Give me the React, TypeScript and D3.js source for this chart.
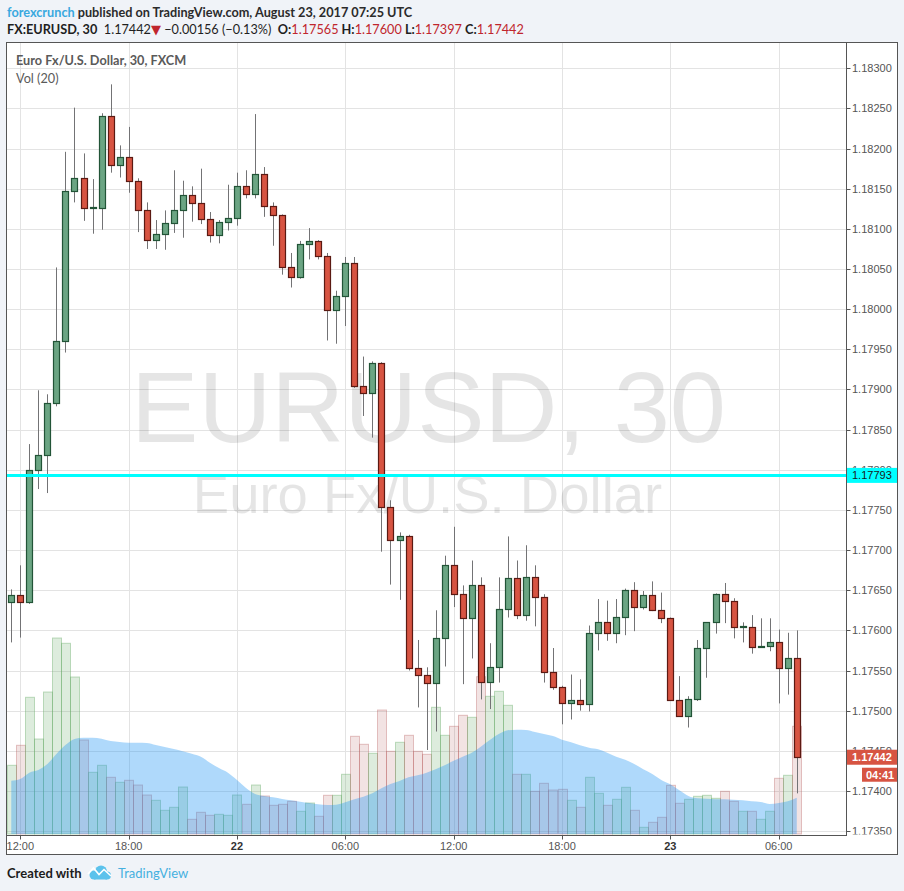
import React, { useEffect, useRef } from "react";
import * as d3 from "d3";

// EURUSD 30 min bars, Aug 21 11:30 UTC .. Aug 23 07:00 UTC
const firstBar = "2017-08-21T11:30:00Z";

const opens = [
  1.17635, 1.17644, 1.17635, 1.178, 1.17818, 1.17883, 1.1796, 1.18147, 1.18164, 1.18126,
  1.18126, 1.1824, 1.1818, 1.18189, 1.1816, 1.18123, 1.18086, 1.18094, 1.18107, 1.18123,
  1.18142, 1.18132, 1.18112, 1.18092, 1.18109, 1.18113, 1.18153, 1.18143, 1.18168, 1.18128,
  1.18117, 1.18052, 1.1804, 1.18081, 1.18085, 1.18066, 1.17999, 1.18017, 1.18057, 1.17904,
  1.17896, 1.17933, 1.17754, 1.17712, 1.17718, 1.17553, 1.17544, 1.17534, 1.1759, 1.17682,
  1.17645, 1.17615, 1.17657, 1.17536, 1.17554, 1.17626, 1.17665, 1.17619, 1.17666, 1.17641,
  1.17548, 1.1753, 1.1751, 1.17513, 1.17508, 1.17597, 1.1761, 1.17597, 1.17617, 1.1765,
  1.17629, 1.17644, 1.17625, 1.17615, 1.17513, 1.17493, 1.17514, 1.17578, 1.1761, 1.17645,
  1.17637, 1.17604, 1.17604, 1.17579, 1.17581, 1.17586, 1.17553, 1.17565,
];
const highs = [
  1.17651, 1.17681, 1.17832, 1.17899, 1.17894, 1.18052, 1.18196, 1.18251, 1.18194, 1.18162,
  1.18244, 1.1828, 1.18204, 1.18227, 1.18163, 1.18133, 1.18111, 1.18123, 1.18173, 1.1816,
  1.18153, 1.18175, 1.18121, 1.18111, 1.18155, 1.1817, 1.18173, 1.18243, 1.18177, 1.18133,
  1.18118, 1.1807, 1.18085, 1.18101, 1.18086, 1.1807, 1.18023, 1.18065, 1.18065, 1.17941,
  1.17935, 1.17934, 1.17762, 1.17722, 1.17719, 1.17588, 1.17554, 1.17625, 1.17693, 1.17729,
  1.17656, 1.17687, 1.17666, 1.17584, 1.17666, 1.17717, 1.17687, 1.17706, 1.17681, 1.17645,
  1.17578, 1.17531, 1.17545, 1.17539, 1.17606, 1.17639, 1.17637, 1.17639, 1.17652, 1.1766,
  1.17649, 1.17661, 1.17647, 1.17616, 1.17543, 1.17518, 1.17588, 1.1761, 1.17646, 1.17659,
  1.1764, 1.1761, 1.17619, 1.17615, 1.17615, 1.17601, 1.17597, 1.176,
];
const lows = [
  1.17585, 1.17591, 1.17633, 1.17776, 1.17771, 1.17879, 1.17946, 1.18133, 1.1811, 1.18094,
  1.18099, 1.1817, 1.18164, 1.18145, 1.18096, 1.18075, 1.18075, 1.18074, 1.18095, 1.18089,
  1.18109, 1.18106, 1.18083, 1.18082, 1.18098, 1.18104, 1.18138, 1.18138, 1.18115, 1.18079,
  1.18043, 1.18027, 1.18038, 1.18062, 1.18062, 1.17961, 1.17957, 1.17979, 1.17902, 1.17867,
  1.1784, 1.17698, 1.17657, 1.17638, 1.1755, 1.17504, 1.17451, 1.17474, 1.17555, 1.17629,
  1.17533, 1.17565, 1.17514, 1.17502, 1.17535, 1.17616, 1.17614, 1.17612, 1.17605, 1.17535,
  1.17526, 1.17483, 1.17489, 1.175, 1.17499, 1.17575, 1.17587, 1.17584, 1.17594, 1.17599,
  1.17626, 1.17624, 1.17609, 1.17512, 1.17493, 1.17479, 1.17512, 1.17541, 1.17596, 1.17609,
  1.1759, 1.17585, 1.17571, 1.17579, 1.17574, 1.17509, 1.1752, 1.17397,
];
const closes = [
  1.17644, 1.17635, 1.178, 1.17818, 1.17883, 1.1796, 1.18147, 1.18164, 1.18126, 1.18127,
  1.1824, 1.1818, 1.18189, 1.1816, 1.18123, 1.18086, 1.18094, 1.18107, 1.18123, 1.18142,
  1.18132, 1.18112, 1.18092, 1.18109, 1.18113, 1.18153, 1.18143, 1.18168, 1.18128, 1.18117,
  1.18052, 1.1804, 1.18081, 1.18085, 1.18066, 1.17999, 1.18017, 1.18057, 1.17904, 1.17896,
  1.17933, 1.17754, 1.17712, 1.17718, 1.17553, 1.17544, 1.17534, 1.1759, 1.17682, 1.17645,
  1.17615, 1.17657, 1.17536, 1.17554, 1.17626, 1.17665, 1.17619, 1.17666, 1.17641, 1.17548,
  1.1753, 1.1751, 1.17513, 1.17508, 1.17597, 1.1761, 1.17597, 1.17617, 1.1765, 1.17629,
  1.17644, 1.17625, 1.17615, 1.17513, 1.17493, 1.17514, 1.17578, 1.1761, 1.17645, 1.17637,
  1.17604, 1.17605, 1.17579, 1.17581, 1.17586, 1.17553, 1.17565, 1.17442,
];
const volumes = [
  687, 887, 1367, 950, 1420, 1960, 1907, 1570, 940, 617,
  687, 567, 517, 537, 490, 390, 337, 237, 267, 470,
  147, 217, 187, 197, 187, 390, 297, 490, 380, 287,
  297, 327, 227, 310, 177, 387, 387, 597, 977, 897,
  807, 1240, 827, 917, 987, 827, 797, 1267, 987, 1077,
  1187, 1167, 1573, 1377, 1427, 1287, 597, 597, 427, 507,
  440, 447, 337, 267, 567, 407, 287, 347, 467, 237,
  67, 117, 167, 487, 307, 347, 377, 387, 357, 427,
  327, 227, 227, 147, 227, 557, 587, 1077,
];
// Vol (20) moving average as drawn
const volumeMA = [
  533, 550, 613, 640, 700, 800, 890, 950, 963, 963,
  953, 930, 920, 913, 913, 910, 890, 870, 850, 827,
  803, 773, 713, 660, 613, 540, 460, 400, 380, 367,
  350, 337, 323, 310, 297, 290, 293, 317, 347, 373,
  407, 457, 500, 530, 567, 587, 613, 647, 687, 733,
  773, 813, 873, 940, 1000, 1037, 1043, 1040, 1020, 1000,
  980, 943, 917, 887, 863, 847, 813, 773, 743, 700,
  647, 600, 540, 497, 437, 380, 357, 353, 347, 347,
  343, 337, 327, 320, 300, 310, 327, 363,
];

const priceTicks = [
  1.183, 1.1825, 1.182, 1.1815, 1.181, 1.1805, 1.18, 1.1795, 1.179, 1.1785,
  1.178, 1.1775, 1.177, 1.1765, 1.176, 1.1755, 1.175, 1.1745, 1.174, 1.1735,
];
const timeTicks = [
  { time: "2017-08-21T12:00:00Z", label: "12:00", bold: false },
  { time: "2017-08-21T18:00:00Z", label: "18:00", bold: false },
  { time: "2017-08-22T00:00:00Z", label: "22", bold: true },
  { time: "2017-08-22T06:00:00Z", label: "06:00", bold: false },
  { time: "2017-08-22T12:00:00Z", label: "12:00", bold: false },
  { time: "2017-08-22T18:00:00Z", label: "18:00", bold: false },
  { time: "2017-08-23T00:00:00Z", label: "23", bold: true },
  { time: "2017-08-23T06:00:00Z", label: "06:00", bold: false },
];
const alertLevel = 1.17793;
const lastPrice = 1.17442;
const countdown = "04:41";

const UP = "#6ba583";
const UP_BORDER = "#225437";
const DOWN = "#d75442";
const DOWN_BORDER = "#5b1a13";
const WICK = "#737375";
const AXIS_TEXT = "#555555";

const App: React.FC = () => {
  const svgRef = useRef<SVGSVGElement | null>(null);

  useEffect(() => {
    const width = 904;
    const height = 891;
    const frame = { left: 6.5, top: 42.5, plotRight: 846.5, plotBottom: 835.5, right: 897.5, bottom: 854.5 };

    const t0 = new Date(firstBar).getTime();
    const bars = opens.map((o, i) => ({
      time: new Date(t0 + i * 30 * 60 * 1000),
      open: o,
      high: highs[i],
      low: lows[i],
      close: closes[i],
      volume: volumes[i],
      ma: volumeMA[i],
    }));

    const xScale = d3
      .scaleTime()
      .domain([new Date("2017-08-21T12:00:00Z"), new Date("2017-08-23T06:00:00Z")])
      .range([20.3, 778.7]);
    const yScale = d3.scaleLinear().domain([1.1735, 1.183]).range([831.1, 68.3]);
    const volScale = d3.scaleLinear().domain([0, 2000]).range([834, 634]);

    const svg = d3.select(svgRef.current).attr("width", width).attr("height", height);
    svg.selectAll("*").remove();

    const defs = svg.append("defs");
    defs
      .append("clipPath")
      .attr("id", "plot-clip")
      .append("rect")
      .attr("x", frame.left)
      .attr("y", frame.top)
      .attr("width", frame.plotRight - frame.left)
      .attr("height", frame.plotBottom - frame.top);
    defs
      .append("clipPath")
      .attr("id", "axis-clip")
      .append("rect")
      .attr("x", frame.plotRight)
      .attr("y", frame.top)
      .attr("width", frame.right - frame.plotRight)
      .attr("height", frame.plotBottom - frame.top - 1);

    // page + chart background
    svg.append("rect").attr("width", width).attr("height", height).attr("fill", "#f0f3f8");
    svg
      .append("rect")
      .attr("x", frame.left)
      .attr("y", frame.top)
      .attr("width", frame.right - frame.left)
      .attr("height", frame.bottom - frame.top)
      .attr("fill", "#ffffff");

    const plot = svg.append("g").attr("clip-path", "url(#plot-clip)");

    // grid
    const grid = plot.append("g").attr("stroke", "#e3e3e3").attr("shape-rendering", "crispEdges");
    grid
      .selectAll("line.h")
      .data(priceTicks)
      .enter()
      .append("line")
      .attr("x1", frame.left)
      .attr("x2", frame.plotRight)
      .attr("y1", (d) => Math.round(yScale(d)) + 0.5)
      .attr("y2", (d) => Math.round(yScale(d)) + 0.5);
    grid
      .selectAll("line.v")
      .data(timeTicks)
      .enter()
      .append("line")
      .attr("y1", frame.top)
      .attr("y2", frame.plotBottom)
      .attr("x1", (d) => Math.round(xScale(new Date(d.time))) + 0.5)
      .attr("x2", (d) => Math.round(xScale(new Date(d.time))) + 0.5);

    // watermark
    const midX = (frame.left + frame.plotRight) / 2;
    plot
      .append("text")
      .attr("x", midX + 2)
      .attr("y", 442)
      .attr("text-anchor", "middle")
      .style("font-family", "'Liberation Sans', Arial, sans-serif")
      .style("font-size", "101px")
      .style("fill", "rgba(0,0,0,0.1)")
      .text("EURUSD, 30");
    plot
      .append("text")
      .attr("x", midX + 1)
      .attr("y", 513)
      .attr("text-anchor", "middle")
      .style("font-family", "'Liberation Sans', Arial, sans-serif")
      .style("font-size", "54.5px")
      .style("fill", "rgba(0,0,0,0.1)")
      .text("Euro Fx/U.S. Dollar");

    // volume bars
    plot
      .append("g")
      .selectAll("rect")
      .data(bars)
      .enter()
      .append("rect")
      .attr("x", (d) => Math.round(xScale(d.time) - 4.5) + 0.5)
      .attr("y", (d) => volScale(d.volume))
      .attr("width", 9)
      .attr("height", (d) => volScale(0) - volScale(d.volume))
      .attr("fill", (d) => (d.close >= d.open ? "rgba(100,170,100,0.22)" : "rgba(180,90,90,0.17)"))
      .attr("stroke", (d) => (d.close >= d.open ? "rgba(100,170,100,0.4)" : "rgba(180,90,90,0.35)"))
      .attr("stroke-width", 1);

    // volume MA area
    const maArea = d3
      .area<(typeof bars)[number]>()
      .x((d) => xScale(d.time))
      .y0(volScale(0))
      .y1((d) => volScale(d.ma))
      .curve(d3.curveMonotoneX);
    plot
      .append("path")
      .datum(bars)
      .attr("d", maArea)
      .attr("fill", "rgba(33,150,243,0.36)");

    // candles
    const candles = plot.append("g").selectAll("g").data(bars).enter().append("g");
    candles
      .append("line")
      .attr("x1", (d) => Math.round(xScale(d.time)) + 0.5)
      .attr("x2", (d) => Math.round(xScale(d.time)) + 0.5)
      .attr("y1", (d) => yScale(d.high))
      .attr("y2", (d) => yScale(d.low))
      .attr("stroke", WICK)
      .attr("stroke-width", 1);
    candles
      .append("rect")
      .attr("x", (d) => Math.round(xScale(d.time)) - 2.5)
      .attr("y", (d) => Math.round(yScale(Math.max(d.open, d.close))) + 0.5)
      .attr("width", 6)
      .attr("height", (d) =>
        Math.max(1, Math.round(yScale(Math.min(d.open, d.close))) - Math.round(yScale(Math.max(d.open, d.close))))
      )
      .attr("fill", (d) => (d.close >= d.open ? UP : DOWN))
      .attr("stroke", (d) => (d.close >= d.open ? UP_BORDER : DOWN_BORDER))
      .attr("stroke-width", 1.2);

    // horizontal alert line
    plot
      .append("line")
      .attr("x1", frame.left)
      .attr("x2", frame.plotRight)
      .attr("y1", yScale(alertLevel))
      .attr("y2", yScale(alertLevel))
      .attr("stroke", "#00ffff")
      .attr("stroke-width", 3);

    // legend
    const legend = svg
      .append("g")
      .style("font-family", "Lato, 'Noto Sans', sans-serif")
      .style("font-size", "12.7px")
      .style("font-weight", "700")
      .style("fill", "#5a5a5a");
    legend.append("text").attr("x", 16).attr("y", 65).text("Euro Fx/U.S. Dollar, 30, FXCM");
    legend.append("text").attr("x", 16).attr("y", 83).style("font-weight", "400").text("Vol (20)");

    // price axis
    const axisG = svg.append("g").attr("clip-path", "url(#axis-clip)");
    axisG
      .selectAll("line")
      .data(priceTicks)
      .enter()
      .append("line")
      .attr("x1", frame.plotRight)
      .attr("x2", frame.plotRight + 4)
      .attr("y1", (d) => Math.round(yScale(d)) + 0.5)
      .attr("y2", (d) => Math.round(yScale(d)) + 0.5)
      .attr("stroke", "#555");
    axisG
      .selectAll("text")
      .data(priceTicks)
      .enter()
      .append("text")
      .attr("x", 852)
      .attr("y", (d) => yScale(d) + 4)
      .style("font-family", "'Liberation Sans', Arial, sans-serif")
      .style("font-size", "11px")
      .style("fill", AXIS_TEXT)
      .text((d) => d.toFixed(5));

    // price boxes
    const boxes = [
      { price: alertLevel, text: alertLevel.toFixed(5), fill: "#00ffff", color: "#1a1a1a", weight: "400" },
      { price: lastPrice, text: lastPrice.toFixed(5), fill: DOWN, color: "#ffffff", weight: "700" },
    ];
    boxes.forEach((b) => {
      const cy = yScale(b.price);
      svg
        .append("rect")
        .attr("x", frame.plotRight)
        .attr("y", cy - 7.5)
        .attr("width", frame.right - frame.plotRight)
        .attr("height", 15)
        .attr("fill", b.fill);
      svg
        .append("text")
        .attr("x", 852)
        .attr("y", cy + 4)
        .style("font-family", "'Liberation Sans', Arial, sans-serif")
        .style("font-size", "11px")
        .style("font-weight", b.weight)
        .style("fill", b.color)
        .text(b.text);
    });
    const lastY = yScale(lastPrice);
    svg
      .append("rect")
      .attr("x", 862)
      .attr("y", lastY + 10.5)
      .attr("width", frame.right - 862)
      .attr("height", 14)
      .attr("fill", DOWN);
    svg
      .append("text")
      .attr("x", 866)
      .attr("y", lastY + 21.5)
      .style("font-family", "'Liberation Sans', Arial, sans-serif")
      .style("font-size", "11px")
      .style("font-weight", "700")
      .style("fill", "#ffffff")
      .text(countdown);

    // time axis
    const timeG = svg.append("g");
    timeG
      .selectAll("line")
      .data(timeTicks)
      .enter()
      .append("line")
      .attr("x1", (d) => Math.round(xScale(new Date(d.time))) + 0.5)
      .attr("x2", (d) => Math.round(xScale(new Date(d.time))) + 0.5)
      .attr("y1", frame.plotBottom)
      .attr("y2", frame.plotBottom + 4)
      .attr("stroke", "#555");
    timeG
      .selectAll("text")
      .data(timeTicks)
      .enter()
      .append("text")
      .attr("x", (d) => xScale(new Date(d.time)))
      .attr("y", 850)
      .attr("text-anchor", "middle")
      .style("font-family", "'Liberation Sans', Arial, sans-serif")
      .style("font-size", "11px")
      .style("font-weight", (d) => (d.bold ? "700" : "400"))
      .style("fill", (d) => (d.bold ? "#333" : AXIS_TEXT))
      .text((d) => d.label);

    // frame
    const border = svg.append("g").attr("stroke", "#555").attr("fill", "none").attr("shape-rendering", "crispEdges");
    border
      .append("rect")
      .attr("x", frame.left)
      .attr("y", frame.top)
      .attr("width", frame.right - frame.left)
      .attr("height", frame.bottom - frame.top);
    border
      .append("line")
      .attr("x1", frame.plotRight)
      .attr("x2", frame.plotRight)
      .attr("y1", frame.top)
      .attr("y2", frame.plotBottom);
    border
      .append("line")
      .attr("x1", frame.left)
      .attr("x2", frame.plotRight)
      .attr("y1", frame.plotBottom)
      .attr("y2", frame.plotBottom);

    // header
    const head = svg.append("g").style("font-family", "Lato, 'Noto Sans', sans-serif").style("font-size", "12.7px");
    const line1 = head.append("text").attr("x", 7).attr("y", 17).style("font-weight", "700");
    line1.append("tspan").style("fill", "#3aa9df").text("forexcrunch");
    line1.append("tspan").style("fill", "#2b2b2b").text(" published on TradingView.com, August 23, 2017 07:25 UTC");

    const red = "#c0262d";
    const line2 = head.append("text").attr("x", 7).attr("y", 34).style("fill", "#1f1f1f");
    const part = (txt: string, weight: string, fill: string) =>
      line2.append("tspan").style("font-weight", weight).style("fill", fill).text(txt);
    part("FX:EURUSD, 30", "700", "#1f1f1f");
    part("\u00a0\u00a0" + lastPrice.toFixed(5), "400", "#1f1f1f");
    line2
      .append("tspan")
      .style("font-family", "'DejaVu Sans'")
      .style("font-size", "13px")
      .style("fill", red)
      .text("\u25bc");
    part("\u00a0\u22120.00156 (\u22120.13%)\u00a0\u00a0", "400", "#1f1f1f");
    part("O:", "700", "#1f1f1f");
    part(opens[opens.length - 1].toFixed(5), "400", red);
    part("\u00a0H:", "700", "#1f1f1f");
    part(highs[highs.length - 1].toFixed(5), "400", red);
    part("\u00a0L:", "700", "#1f1f1f");
    part(lows[lows.length - 1].toFixed(5), "400", red);
    part("\u00a0C:", "700", "#1f1f1f");
    part(closes[closes.length - 1].toFixed(5), "400", red);

    // footer
    const foot = svg.append("g").style("font-family", "Lato, 'Noto Sans', sans-serif").style("font-size", "13px");
    foot.append("text").attr("x", 7).attr("y", 878).style("font-weight", "700").style("fill", "#1c1c1c").text("Created with");
    const logo = foot.append("g").attr("fill", "#5cc2ec");
    logo.append("circle").attr("cx", 94).attr("cy", 875).attr("r", 4.5);
    logo.append("circle").attr("cx", 101).attr("cy", 871.5).attr("r", 6);
    logo.append("circle").attr("cx", 107).attr("cy", 875.5).attr("r", 4);
    logo.append("rect").attr("x", 94).attr("y", 874).attr("width", 13).attr("height", 5.5);
    foot
      .append("polyline")
      .attr("points", "88,874 93.5,868 99,874.5 104,869.5 111,876")
      .attr("fill", "none")
      .attr("stroke", "#ffffff")
      .attr("stroke-width", 1.6);
    foot.append("text").attr("x", 118).attr("y", 878).style("fill", "#45b0e0").text("TradingView");
  }, []);

  return <svg ref={svgRef} style={{ position: "absolute", left: 0, top: 0, display: "block" }}></svg>;
};

export default App;
